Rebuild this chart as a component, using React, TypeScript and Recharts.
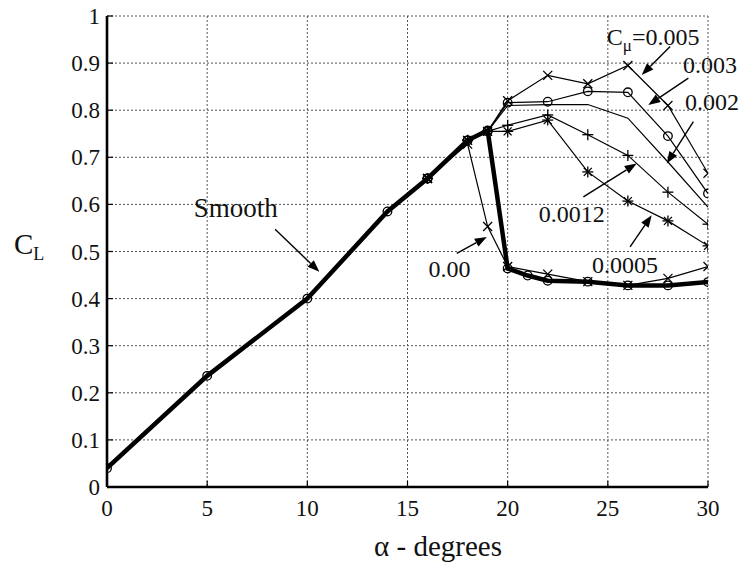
import React from 'react';
import { LineChart, Line, XAxis, YAxis, CartesianGrid, ReferenceLine, ReferenceDot } from 'recharts';

const FONT = '"Liberation Serif", "Times New Roman", Times, serif';

// axis ticks
const xTicks = [0, 5, 10, 15, 20, 25, 30];
const yTicks = [0, 0.1, 0.2, 0.3, 0.4, 0.5, 0.6, 0.7, 0.8, 0.9, 1];
const yTickLabels = ['0', '0.1', '0.2', '0.3', '0.4', '0.5', '0.6', '0.7', '0.8', '0.9', '1'];

// smooth (no blowing)
const smoothAlpha = [0, 5, 10, 14, 16, 18, 19, 20, 21, 22, 24, 26, 28, 30];
const smoothCL = [0.04, 0.236, 0.4, 0.585, 0.655, 0.736, 0.757, 0.464, 0.449, 0.438, 0.436, 0.428, 0.428, 0.435];

// blowing cases
const blowAlpha = [16, 18, 19, 20, 22, 24, 26, 28, 30];
const cmu0000CL = [0.655, 0.728, 0.553, 0.468, 0.452, 0.436, 0.428, 0.443, 0.468];
const cmu0005CL = [0.655, 0.736, 0.755, 0.755, 0.779, 0.669, 0.607, 0.565, 0.512];
const cmu0012CL = [0.655, 0.736, 0.755, 0.768, 0.79, 0.748, 0.704, 0.626, 0.558];
const cmu0020CL = [0.655, 0.736, 0.755, 0.81, 0.812, 0.812, 0.783, 0.69, 0.594];
const cmu0030CL = [0.655, 0.736, 0.755, 0.816, 0.818, 0.84, 0.838, 0.745, 0.623];
const cmu0050CL = [0.655, 0.736, 0.755, 0.82, 0.874, 0.856, 0.895, 0.81, 0.666];

// annotations (text centre x, baseline y in data units)
const noteText = ['Smooth', '0.00', '0.0012', '0.0005', '0.002', '0.003'];
const noteX = [6.43, 17.1, 23.2, 25.86, 30.2, 30.1];
const noteY = [0.574, 0.446, 0.563, 0.454, 0.8, 0.879];
const noteSize = [27, 24, 24, 24, 24, 24];
const cmuLabelX = 27.26;
const cmuLabelY = 0.938;

// arrows (tail -> tip)
const arrowFromX = [8.39, 17.46, 23.78, 26.11, 29.27, 29.02, 28.11];
const arrowFromY = [0.547, 0.496, 0.616, 0.51, 0.776, 0.868, 0.935];
const arrowToX = [10.6, 18.96, 26.44, 27.19, 27.94, 27.02, 26.69];
const arrowToY = [0.457, 0.531, 0.687, 0.577, 0.687, 0.811, 0.875];

const makeData = (xs: number[], ys: number[]) => xs.map((x, i) => ({ x, y: ys[i] }));

const smoothData = makeData(smoothAlpha, smoothCL);
const d0000 = makeData(blowAlpha, cmu0000CL);
const d0005 = makeData(blowAlpha, cmu0005CL);
const d0012 = makeData(blowAlpha, cmu0012CL);
const d0020 = makeData(blowAlpha, cmu0020CL);
const d0030 = makeData(blowAlpha, cmu0030CL);
const d0050 = makeData(blowAlpha, cmu0050CL);

const circleDot = (p: any) => (
  <circle key={`c-${p.index}`} cx={p.cx} cy={p.cy} r={4.3} fill="none" stroke="#000" strokeWidth={1.3} />
);
const xDot = (p: any) => {
  const s = 4.5;
  return (
    <g key={`x-${p.index}`} stroke="#000" strokeWidth={1.3}>
      <line x1={p.cx - s} y1={p.cy - s} x2={p.cx + s} y2={p.cy + s} />
      <line x1={p.cx - s} y1={p.cy + s} x2={p.cx + s} y2={p.cy - s} />
    </g>
  );
};
const plusDot = (p: any) => {
  const s = 5.5;
  return (
    <g key={`p-${p.index}`} stroke="#000" strokeWidth={1.3}>
      <line x1={p.cx - s} y1={p.cy} x2={p.cx + s} y2={p.cy} />
      <line x1={p.cx} y1={p.cy - s} x2={p.cx} y2={p.cy + s} />
    </g>
  );
};
const starDot = (p: any) => {
  const s = 5.5;
  const d = 4;
  return (
    <g key={`s-${p.index}`} stroke="#000" strokeWidth={1.3}>
      <line x1={p.cx - s} y1={p.cy} x2={p.cx + s} y2={p.cy} />
      <line x1={p.cx} y1={p.cy - s} x2={p.cx} y2={p.cy + s} />
      <line x1={p.cx - d} y1={p.cy - d} x2={p.cx + d} y2={p.cy + d} />
      <line x1={p.cx - d} y1={p.cy + d} x2={p.cx + d} y2={p.cy - d} />
    </g>
  );
};

const ArrowShape = (p: any) => {
  const { x1, y1, x2, y2 } = p;
  const ang = Math.atan2(y2 - y1, x2 - x1);
  const L = 12;
  const W = 4.5;
  const bx = x2 - L * Math.cos(ang);
  const by = y2 - L * Math.sin(ang);
  const px = -Math.sin(ang) * W;
  const py = Math.cos(ang) * W;
  return (
    <g>
      <line x1={x1} y1={y1} x2={bx} y2={by} stroke="#000" strokeWidth={1.4} />
      <polygon points={`${x2},${y2} ${bx + px},${by + py} ${bx - px},${by - py}`} fill="#000" />
    </g>
  );
};

const XTick = (p: any) => (
  <text x={p.x} y={p.y + 16} textAnchor="middle" fontSize={23} fill="#111" style={{ fontFamily: FONT }}>
    {p.payload.value}
  </text>
);
const YTick = (p: any) => (
  <text x={p.x} y={p.y + 8} textAnchor="end" fontSize={23} fill="#111" style={{ fontFamily: FONT }}>
    {yTickLabels[yTicks.indexOf(p.payload.value)] ?? String(p.payload.value)}
  </text>
);

export default function App() {
  return (
    <div style={{ position: 'absolute', left: 0, top: 0, width: 742, height: 569, background: '#fff', fontFamily: FONT }}>
      <LineChart width={742} height={569} margin={{ top: 16, right: 34, bottom: 0, left: 0 }} style={{ fontFamily: FONT }}>
        <CartesianGrid stroke="#555" strokeDasharray="2 2" strokeWidth={1} />
        <XAxis
          dataKey="x"
          type="number"
          domain={[0, 30]}
          allowDataOverflow
          ticks={xTicks}
          height={82}
          tickSize={-6}
          tickMargin={19}
          tick={XTick}
          axisLine={{ stroke: '#000', strokeWidth: 2.6 }}
          tickLine={{ stroke: '#000', strokeWidth: 1.2 }}
          label={{
            content: (props: any) => {
              const vb = props.viewBox || { x: 107, y: 487, width: 601, height: 82 };
              return (
                <text x={438} y={vb.y + 69} textAnchor="middle" fontSize={29} fill="#111" style={{ fontFamily: FONT }}>
                  α - degrees
                </text>
              );
            },
          }}
        />
        <XAxis
          xAxisId="top"
          orientation="top"
          type="number"
          domain={[0, 30]}
          allowDataOverflow
          ticks={xTicks}
          height={0}
          tickSize={-6}
          tickFormatter={() => ''}
          axisLine={{ stroke: '#000', strokeWidth: 2.6 }}
          tickLine={{ stroke: '#000', strokeWidth: 1.2 }}
        />
        <YAxis
          type="number"
          domain={[0, 1]}
          allowDataOverflow
          ticks={yTicks}
          width={107}
          tickSize={-6}
          tickMargin={13}
          tick={YTick}
          axisLine={{ stroke: '#000', strokeWidth: 2.6 }}
          tickLine={{ stroke: '#000', strokeWidth: 1.2 }}
          label={{
            content: (props: any) => {
              const vb = props.viewBox || { x: 0, y: 16, width: 107, height: 471 };
              return (
                <text x={vb.x + 14} y={vb.y + vb.height / 2 + 2} fontSize={29} fill="#111" style={{ fontFamily: FONT }}>
                  C
                  <tspan dy={6} fontSize={18}>L</tspan>
                </text>
              );
            },
          }}
        />
        <YAxis
          yAxisId="right"
          orientation="right"
          type="number"
          domain={[0, 1]}
          allowDataOverflow
          ticks={yTicks}
          width={0}
          tickSize={-6}
          tickFormatter={() => ''}
          axisLine={{ stroke: '#000', strokeWidth: 2.6 }}
          tickLine={{ stroke: '#000', strokeWidth: 1.2 }}
        />

        <Line data={d0050} dataKey="y" type="linear" stroke="#000" strokeWidth={1.2} dot={xDot} isAnimationActive={false} />
        <Line data={d0030} dataKey="y" type="linear" stroke="#000" strokeWidth={1.2} dot={circleDot} isAnimationActive={false} />
        <Line data={d0020} dataKey="y" type="linear" stroke="#000" strokeWidth={1.2} dot={false} isAnimationActive={false} />
        <Line data={d0012} dataKey="y" type="linear" stroke="#000" strokeWidth={1.2} dot={plusDot} isAnimationActive={false} />
        <Line data={d0005} dataKey="y" type="linear" stroke="#000" strokeWidth={1.2} dot={starDot} isAnimationActive={false} />
        <Line data={d0000} dataKey="y" type="linear" stroke="#000" strokeWidth={1.2} dot={xDot} isAnimationActive={false} />
        <Line data={smoothData} dataKey="y" type="linear" stroke="#000" strokeWidth={4.5} dot={circleDot} isAnimationActive={false} />

        {arrowFromX.map((fx, i) => (
          <ReferenceLine
            key={`arrow-${i}`}
            segment={[
              { x: fx, y: arrowFromY[i] },
              { x: arrowToX[i], y: arrowToY[i] },
            ]}
            ifOverflow="visible"
            shape={ArrowShape}
          />
        ))}

        {noteText.map((t, i) => (
          <ReferenceDot
            key={`note-${i}`}
            x={noteX[i]}
            y={noteY[i]}
            r={0}
            ifOverflow="visible"
            shape={(p: any) => (
              <text x={p.cx} y={p.cy} textAnchor="middle" fontSize={noteSize[i]} fill="#111" style={{ fontFamily: FONT }}>
                {t}
              </text>
            )}
          />
        ))}
        <ReferenceDot
          x={cmuLabelX}
          y={cmuLabelY}
          r={0}
          ifOverflow="visible"
          shape={(p: any) => (
            <text x={p.cx} y={p.cy} textAnchor="middle" fontSize={24} fill="#111" style={{ fontFamily: FONT }}>
              C<tspan dy={6} fontSize={17}>μ</tspan>
              <tspan dy={-6}>=0.005</tspan>
            </text>
          )}
        />
      </LineChart>
    </div>
  );
}
